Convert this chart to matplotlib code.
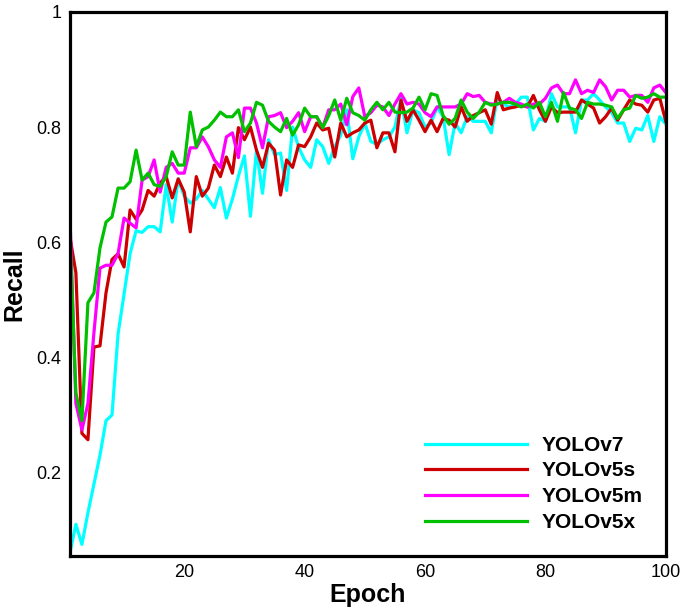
import numpy as np
import matplotlib
matplotlib.use("Agg")
import matplotlib.pyplot as plt

plt.rcParams['font.family'] = ['Liberation Sans', 'DejaVu Sans']

epochs = np.arange(1, 101)

yolov7 = [0.06, 0.11, 0.075, 0.13, 0.18, 0.23, 0.29, 0.30, 0.44, 0.51,
          0.58, 0.62, 0.617, 0.627, 0.627, 0.618, 0.70, 0.635, 0.71, 0.68,
          0.668, 0.675, 0.69, 0.675, 0.66, 0.695, 0.642, 0.675, 0.715, 0.75,
          0.645, 0.76, 0.685, 0.778, 0.752, 0.755, 0.69, 0.80, 0.765, 0.743,
          0.73, 0.778, 0.766, 0.737, 0.766, 0.786, 0.83, 0.745, 0.783, 0.807,
          0.775, 0.77, 0.778, 0.783, 0.80, 0.85, 0.79, 0.83, 0.825, 0.80,
          0.807, 0.835, 0.818, 0.752, 0.807, 0.79, 0.818, 0.81, 0.81, 0.81,
          0.79, 0.852, 0.84, 0.835, 0.84, 0.852, 0.852, 0.795, 0.815, 0.81,
          0.858, 0.835, 0.835, 0.835, 0.79, 0.847, 0.847, 0.858, 0.847, 0.835,
          0.825, 0.807, 0.807, 0.775, 0.798, 0.795, 0.82, 0.775, 0.818, 0.805]

yolov5s = [0.61, 0.547, 0.268, 0.257, 0.418, 0.42, 0.512, 0.57, 0.58, 0.557,
           0.656, 0.64, 0.656, 0.69, 0.68, 0.703, 0.714, 0.677, 0.71, 0.687,
           0.618, 0.714, 0.68, 0.694, 0.734, 0.714, 0.748, 0.72, 0.799, 0.778,
           0.80, 0.76, 0.73, 0.772, 0.76, 0.682, 0.743, 0.73, 0.769, 0.766,
           0.783, 0.807, 0.795, 0.798, 0.748, 0.807, 0.783, 0.79, 0.795, 0.807,
           0.812, 0.764, 0.79, 0.79, 0.757, 0.847, 0.81, 0.83, 0.812, 0.792,
           0.812, 0.792, 0.815, 0.812, 0.80, 0.835, 0.81, 0.82, 0.825, 0.83,
           0.805, 0.86, 0.83, 0.833, 0.835, 0.838, 0.835, 0.855, 0.83, 0.81,
           0.835, 0.825, 0.826, 0.826, 0.826, 0.847, 0.84, 0.833, 0.807, 0.818,
           0.833, 0.812, 0.83, 0.847, 0.84, 0.838, 0.826, 0.847, 0.85, 0.81]

yolov5m = [0.65, 0.32, 0.274, 0.32, 0.443, 0.555, 0.56, 0.56, 0.58, 0.642,
           0.633, 0.625, 0.708, 0.714, 0.743, 0.687, 0.73, 0.737, 0.72, 0.72,
           0.764, 0.764, 0.783, 0.766, 0.743, 0.73, 0.783, 0.79, 0.747, 0.833,
           0.833, 0.807, 0.764, 0.818, 0.82, 0.825, 0.799, 0.81, 0.825, 0.792,
           0.818, 0.818, 0.799, 0.83, 0.83, 0.84, 0.804, 0.853, 0.868, 0.818,
           0.825, 0.838, 0.835, 0.82, 0.84, 0.858, 0.84, 0.843, 0.84, 0.825,
           0.818, 0.835, 0.835, 0.835, 0.835, 0.84, 0.858, 0.853, 0.855, 0.843,
           0.84, 0.84, 0.843, 0.85, 0.843, 0.84, 0.835, 0.84, 0.84, 0.85,
           0.868, 0.873, 0.858, 0.858, 0.882, 0.858, 0.864, 0.86, 0.882, 0.87,
           0.847, 0.864, 0.864, 0.852, 0.855, 0.855, 0.843, 0.868, 0.873, 0.86]

yolov5x = [0.616, 0.338, 0.29, 0.495, 0.512, 0.59, 0.635, 0.644, 0.694, 0.694,
           0.705, 0.76, 0.708, 0.72, 0.70, 0.697, 0.714, 0.757, 0.734, 0.734,
           0.826, 0.766, 0.795, 0.80, 0.812, 0.826, 0.818, 0.818, 0.83, 0.792,
           0.807, 0.843, 0.838, 0.81, 0.80, 0.792, 0.815, 0.786, 0.804, 0.833,
           0.818, 0.818, 0.799, 0.82, 0.847, 0.812, 0.85, 0.825, 0.82, 0.812,
           0.83, 0.843, 0.83, 0.843, 0.826, 0.825, 0.826, 0.833, 0.852, 0.83,
           0.858, 0.855, 0.82, 0.805, 0.815, 0.847, 0.826, 0.815, 0.826, 0.843,
           0.838, 0.84, 0.843, 0.843, 0.84, 0.835, 0.84, 0.833, 0.843, 0.818,
           0.843, 0.81, 0.86, 0.833, 0.83, 0.815, 0.843, 0.84, 0.84, 0.838,
           0.835, 0.815, 0.83, 0.833, 0.855, 0.85, 0.852, 0.858, 0.852, 0.852]

labels = ["YOLOv7", "YOLOv5s", "YOLOv5m", "YOLOv5x"]
colors = ["#00FFFF", "#CC0000", "#FF00FF", "#00C000"]

fig = plt.figure(figsize=(6.85, 6.12), dpi=100)
ax = fig.add_axes([0.102, 0.0915, 0.870, 0.889])

for series, lab, col in zip([yolov7, yolov5s, yolov5m, yolov5x], labels, colors):
    ax.plot(epochs, series, color=col, linewidth=2.3, label=lab)

ax.set_xlim(1, 100)
ax.set_ylim(0.055, 1)
ax.set_xticks([20, 40, 60, 80, 100])
ax.set_yticks([0.2, 0.4, 0.6, 0.8, 1.0])
ax.set_yticklabels(["0.2", "0.4", "0.6", "0.8", "1"])
ax.tick_params(length=0, labelsize=13, pad=6)
for s in ax.spines.values():
    s.set_linewidth(2.3)

ax.set_xlabel("Epoch", fontsize=18, fontweight='bold', labelpad=1)
ax.set_ylabel("Recall", fontsize=18, fontweight='bold', labelpad=7)

leg = ax.legend(loc='lower right', frameon=False, handlelength=4.9,
                prop={'weight': 'bold', 'size': 15}, labelspacing=0.32,
                handletextpad=0.7, bbox_to_anchor=(0.992, 0.01))

fig.savefig("out.png", dpi=100)
